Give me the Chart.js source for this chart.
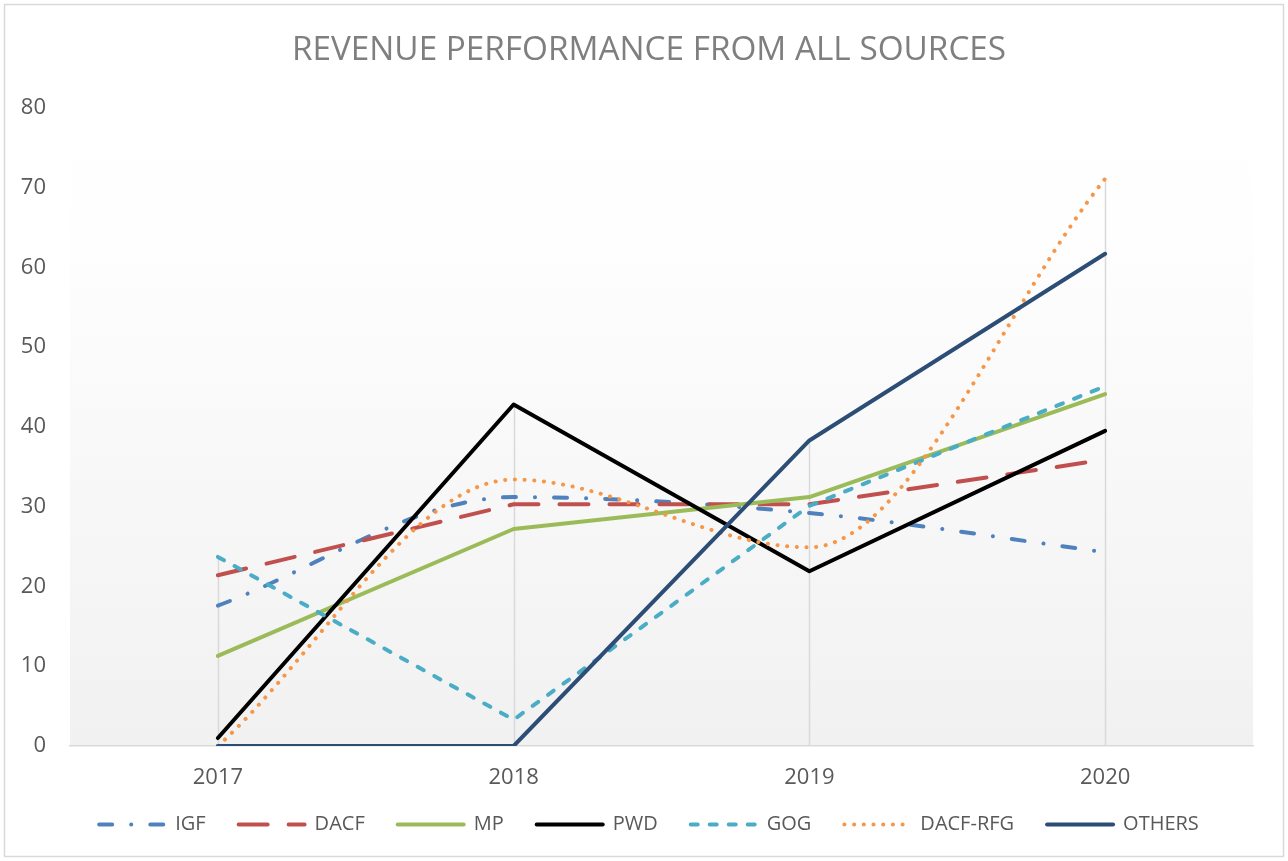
<!DOCTYPE html>
<html>
<head>
<meta charset="utf-8">
<script src="https://cdn.jsdelivr.net/npm/chart.js@4.4.1/dist/chart.umd.min.js"></script>
<style>
  html, body { margin: 0; padding: 0; background: #ffffff; }
  #wrap { width: 1288px; height: 861px; position: relative; }
</style>
</head>
<body>
<div id="wrap"><canvas id="c" width="1288" height="861"></canvas></div>
<script>
const years = ['2017', '2018', '2019', '2020'];
const IGF = [17.6, 31.2, 29.2, 24.3];
const DACF = [21.4, 30.3, 30.3, 35.9];
const MP = [11.3, 27.2, 31.2, 44.1];
const PWD = [1.0, 42.8, 21.9, 39.5];
const GOG = [23.7, 3.3, 30.1, 45.1];
const DACF_RFG = [0, 33.4, 24.9, 71.1];
const OTHERS = [0, 0, 38.3, 61.7];
const yTicks = [0, 10, 20, 30, 40, 50, 60, 70, 80];

const FONT = "'Open Sans', 'DejaVu Sans', sans-serif";
const W = 4;

function ds(label, data, color, dash, smooth, order) {
  const o = {
    label, data,
    borderColor: color,
    backgroundColor: color,
    borderWidth: W,
    borderDash: dash,
    borderCapStyle: 'round',
    borderJoinStyle: 'round',
    tension: 0,
    pointRadius: 0,
    pointHoverRadius: 0,
    fill: false,
    order: order
  };
  if (smooth) { o.cubicInterpolationMode = 'monotone'; o.tension = 0.4; }
  return o;
}

const plotBg = {
  id: 'plotBg',
  beforeDraw(chart) {
    const {ctx, chartArea: a} = chart;
    ctx.save();
    ctx.fillStyle = '#ffffff';
    ctx.fillRect(0, 0, chart.width, chart.height);
    const g = ctx.createLinearGradient(0, a.top, 0, a.bottom);
    g.addColorStop(0, '#ffffff');
    g.addColorStop(0.2, '#fefefe');
    g.addColorStop(1, '#f1f1f1');
    ctx.fillStyle = g;
    ctx.fillRect(a.left, a.top, a.right - a.left, a.bottom - a.top);
    ctx.strokeStyle = '#d9d9d9';
    ctx.lineWidth = 1.5;
    ctx.strokeRect(4.5, 4.5, chart.width - 9, chart.height - 9);
    ctx.restore();
  }
};

const dropLines = {
  id: 'dropLines',
  beforeDatasetsDraw(chart) {
    const {ctx, scales: {x, y}} = chart;
    ctx.save();
    ctx.strokeStyle = '#d9d9d9';
    ctx.lineWidth = 1.5;
    years.forEach((_, i) => {
      let m = -Infinity;
      chart.data.datasets.forEach(d => { if (d.data[i] > m) m = d.data[i]; });
      const px = Math.round(x.getPixelForValue(i)) + 0.5;
      ctx.beginPath();
      ctx.moveTo(px, y.getPixelForValue(m));
      ctx.lineTo(px, y.getPixelForValue(0));
      ctx.stroke();
    });
    ctx.restore();
  }
};

new Chart(document.getElementById('c'), {
  type: 'line',
  data: {
    labels: years,
    datasets: [
      ds('IGF', IGF, '#4f81bd', [13, 19, 0.1, 19], true, 7),
      ds('DACF', DACF, '#c0504d', [29, 21], false, 6),
      ds('MP', MP, '#9bbb59', [], false, 5),
      ds('PWD', PWD, '#000000', [], false, 4),
      ds('GOG', GOG, '#4bacc6', [7, 12], false, 3),
      ds('DACF-RFG', DACF_RFG, '#f79646', [0.1, 9.6], true, 2),
      ds('OTHERS', OTHERS, '#2c4d75', [], false, 1)
    ]
  },
  options: {
    responsive: false,
    animation: false,
    events: [],
    layout: { padding: { left: 10, right: 0, top: 0, bottom: 16.5 } },
    plugins: {
      tooltip: { enabled: false },
      title: {
        display: true,
        text: 'REVENUE PERFORMANCE FROM ALL SOURCES',
        color: '#7f7f7f',
        font: { family: FONT, size: 33.3, weight: 'normal', lineHeight: 1.2 },
        padding: { top: 31, bottom: 36.8 }
      },
      legend: {
        position: 'bottom',
        labels: {
          usePointStyle: true,
          pointStyle: 'line',
          pointStyleWidth: 66,
          boxHeight: 20,
          padding: 33,
          color: '#595959',
          font: { family: FONT, size: 20 },
          generateLabels(chart) {
            return chart.data.datasets.map((d, i) => ({
              text: d.label,
              fillStyle: d.borderColor,
              strokeStyle: d.borderColor,
              lineWidth: d.borderWidth,
              lineDash: d.borderDash,
              lineCap: 'round',
              lineJoin: 'round',
              pointStyle: 'line',
              fontColor: '#595959',
              hidden: false,
              datasetIndex: i
            }));
          }
        }
      }
    },
    scales: {
      x: {
        offset: true,
        afterFit(s) {
          s.height = 35.5;
          s._computeLabelArea = function () { return undefined; };
        },
        grid: { display: false, drawTicks: false },
        border: { display: true, color: '#d9d9d9', width: 1.5 },
        ticks: { color: '#595959', font: { family: FONT, size: 22, lineHeight: 1.2 }, padding: 19, maxRotation: 0 }
      },
      y: {
        min: 0, max: 80,
        afterFit(s) { s.width = 60; },
        afterBuildTicks(s) { s.ticks = yTicks.map(v => ({ value: v })); },
        grid: { display: false, drawTicks: false },
        border: { display: false },
        ticks: { color: '#595959', font: { family: FONT, size: 22 }, padding: 24 }
      },
      yRight: {
        position: 'right',
        min: 0, max: 1,
        afterFit(s) { s.width = 35; },
        grid: { display: false, drawTicks: false },
        border: { display: false },
        ticks: { display: false }
      }
    }
  },
  plugins: [plotBg, dropLines]
});
</script>
</body>
</html>
